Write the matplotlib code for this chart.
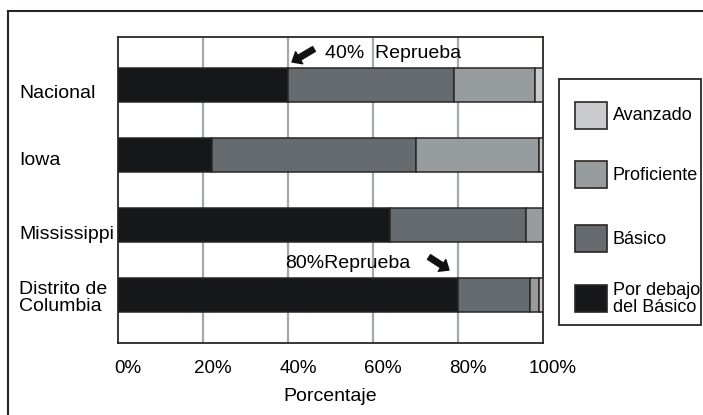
import matplotlib
matplotlib.use("Agg")
import matplotlib.pyplot as plt
from matplotlib.patches import Rectangle
from matplotlib.lines import Line2D
import matplotlib.transforms as mtransforms

plt.rcParams['font.family'] = ['Liberation Sans', 'DejaVu Sans']

categories = ["Nacional", "Iowa", "Mississippi", "Distrito de\nColumbia"]
levels = ["Por debajo\ndel Básico", "Básico", "Proficiente", "Avanzado"]
below_basic = [40, 22, 64, 80]
basic = [39, 48, 32, 17]
proficient = [19, 29, 4, 2]
advanced = [2, 1, 0, 1]
series = [below_basic, basic, proficient, advanced]
xticks = [0, 20, 40, 60, 80, 100]
xticklabels = ["0%", "20%", "40%", "60%", "80%", "100%"]

colors = ["#161719", "#656b6e", "#979d9f", "#c9cbcd"]
edge = "#2b2624"

W, H = 703, 415
fig = plt.figure(figsize=(W / 100, H / 100), dpi=100)

def fx(px):
    return px / W

def fy(py):
    return 1 - py / H

ax = fig.add_axes([fx(118), fy(343), fx(543) - fx(118), fy(37) - fy(343)])

ypos = list(range(len(categories)))
left = [0] * len(categories)
for vals, col in zip(series, colors):
    ax.barh(ypos, vals, left=left, height=0.486, color=col, edgecolor=edge,
            linewidth=1.1, zorder=3)
    left = [l + v for l, v in zip(left, vals)]

ax.set_xlim(0, 100)
ax.set_ylim(3.686, -0.686)
ax.set_xticks(xticks)
ax.set_xticklabels(xticklabels, fontsize=13.5)
ax.tick_params(axis='x', length=0, pad=12)
offset = mtransforms.ScaledTranslation(10 / 100, 0, fig.dpi_scale_trans)
for lab in ax.get_xticklabels():
    lab.set_transform(lab.get_transform() + offset)
ax.set_yticks([])
for x in xticks[1:-1]:
    ax.axvline(x, color="#a3a8aa", lw=1.6, zorder=1)
for s in ax.spines.values():
    s.set_color(edge)
    s.set_linewidth(1.3)

ax.set_xlabel("Porcentaje", fontsize=14, labelpad=8)

# category labels
blend = mtransforms.blended_transform_factory(fig.transFigure, ax.transData)
yoffs = [8, 5, 10, 3]
for i, (cat, off) in enumerate(zip(categories, yoffs)):
    tr = blend + mtransforms.ScaledTranslation(0, -off / 100, fig.dpi_scale_trans)
    ax.text(fx(19), i, cat, transform=tr, ha='left', va='center',
            fontsize=14, linespacing=0.95, clip_on=False)

# annotations
fig.text(fx(325), fy(53), "40%  Reprueba", fontsize=14, ha='left', va='center')
fig.text(fx(285), fy(263), "80%Reprueba", fontsize=14, ha='left', va='center')
arrowprops = dict(arrowstyle="simple,head_length=0.6,head_width=1.0,tail_width=0.4",
                  color="#111111", shrinkA=0, shrinkB=0)
ax.annotate("", xy=(292, H - 62), xytext=(314, H - 49), xycoords='figure pixels',
            textcoords='figure pixels', arrowprops=arrowprops)
ax.annotate("", xy=(449, H - 270), xytext=(429, H - 257), xycoords='figure pixels',
            textcoords='figure pixels', arrowprops=arrowprops)

# legend
fig.add_artist(Rectangle((fx(559), fy(325)), fx(701) - fx(559), fy(79) - fy(325),
                         transform=fig.transFigure, facecolor='white', edgecolor=edge,
                         linewidth=1.3))
tops = [102, 161, 225, 285]
leg_items = list(zip(levels, colors))[::-1]
for (lab, col), top in zip(leg_items, tops):
    fig.add_artist(Rectangle((fx(575), fy(top + 27)), fx(607) - fx(575), fy(top) - fy(top + 27),
                             transform=fig.transFigure, facecolor=col, edgecolor=edge,
                             linewidth=1.2))
    fig.text(fx(613), fy(top + 14), lab, fontsize=13, ha='left', va='center',
             linespacing=1.0)

# outer frame (left and top edges)
fig.add_artist(Line2D([fx(8), fx(8)], [0, fy(11)], transform=fig.transFigure,
                      color=edge, lw=1.5))
fig.add_artist(Line2D([fx(8), 1], [fy(11), fy(11)], transform=fig.transFigure,
                      color=edge, lw=1.5))

fig.savefig("out.png", dpi=100)
